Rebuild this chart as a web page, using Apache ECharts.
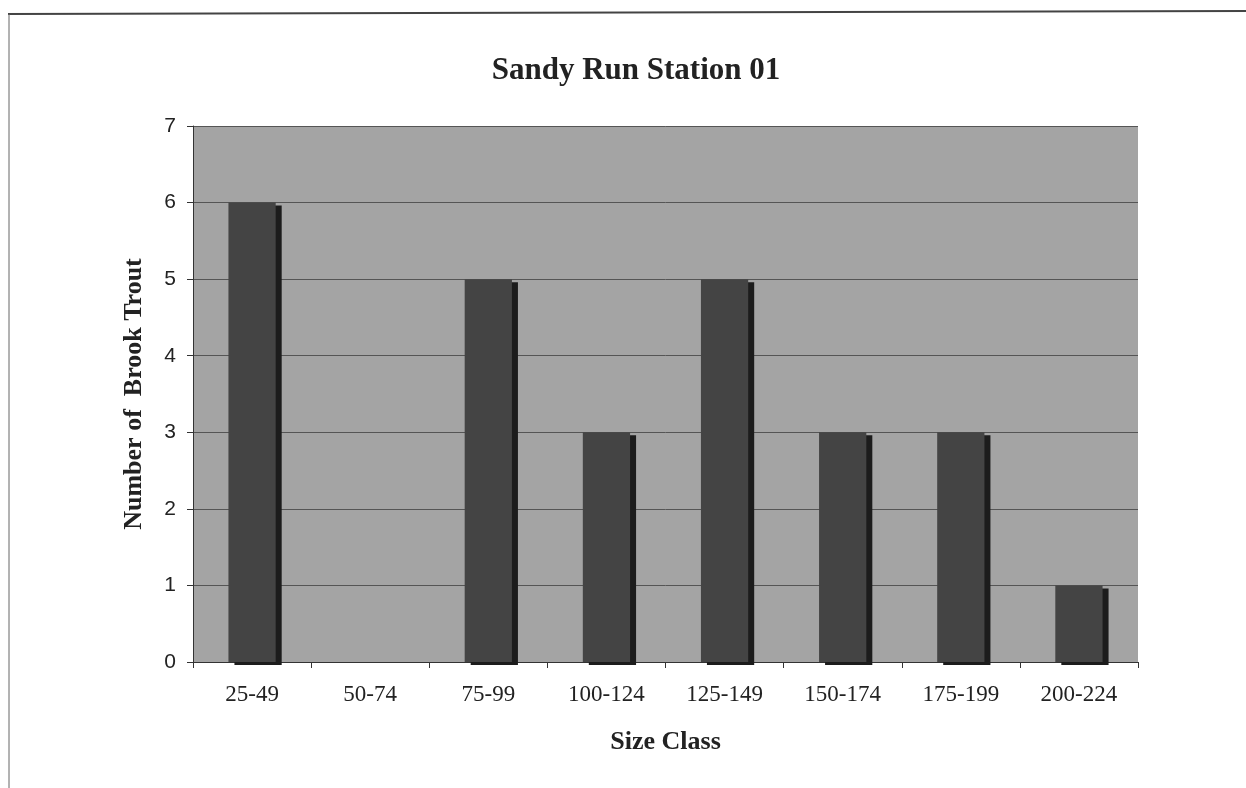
<!DOCTYPE html>
<html><head><meta charset="utf-8">
<script src="https://cdn.jsdelivr.net/npm/echarts@6/dist/echarts.min.js"></script>
<style>html,body{margin:0;padding:0;background:#fff}#c{width:1246px;height:788px}</style>
</head><body><div id="c"></div>
<script>
const categories = ['25-49','50-74','75-99','100-124','125-149','150-174','175-199','200-224'];
const troutCounts = [6,0,5,3,5,3,3,1];
const yTicks = [0,1,2,3,4,5,6,7];

const chart = echarts.init(document.getElementById('c'));
chart.setOption({
  animation:false,
  backgroundColor:'#fff',
  title:{text:'Sandy Run Station 01',left:631,top:50,textAlign:'center',
    textStyle:{fontFamily:'Liberation Serif',fontSize:31,fontWeight:'bold',color:'#222'}},
  graphic:[
    {type:'line',shape:{x1:8,y1:14,x2:1246,y2:11},style:{stroke:'#444',lineWidth:2}},
    {type:'line',shape:{x1:9,y1:14,x2:9,y2:788},style:{stroke:'#666',lineWidth:1}}
  ],
  grid:{left:193,right:108,top:126,bottom:126,show:true,backgroundColor:'#a4a4a4',borderWidth:0},
  xAxis:{type:'category',data:categories,
    name:'Size Class',nameLocation:'middle',nameGap:67,
    nameTextStyle:{fontFamily:'Liberation Serif',fontSize:26,fontWeight:'bold',color:'#222'},
    axisLine:{lineStyle:{color:'#333',width:1}},
    axisTick:{show:true,length:6,lineStyle:{color:'#333'}},
    axisLabel:{fontFamily:'Liberation Serif',fontSize:23,color:'#222',margin:21}},
  yAxis:{type:'value',min:0,max:7,interval:1,
    name:'Number of  Brook Trout',nameLocation:'middle',nameGap:46,
    nameTextStyle:{fontFamily:'Liberation Serif',fontSize:26,fontWeight:'bold',color:'#222'},
    axisLine:{show:true,lineStyle:{color:'#333',width:1}},
    axisTick:{show:true,length:6,lineStyle:{color:'#333'}},
    axisLabel:{fontFamily:'Liberation Sans',fontSize:21,color:'#222',margin:17,
      formatter:v=>yTicks.includes(v)?String(v):''},
    splitLine:{lineStyle:{color:'#555',width:1}}},
  series:[{type:'bar',data:troutCounts,barWidth:'40%',
    itemStyle:{color:'#444444',borderWidth:0,
      shadowColor:'#1c1c1c',shadowOffsetX:6,shadowOffsetY:3,shadowBlur:0}}]
});
</script></body></html>
